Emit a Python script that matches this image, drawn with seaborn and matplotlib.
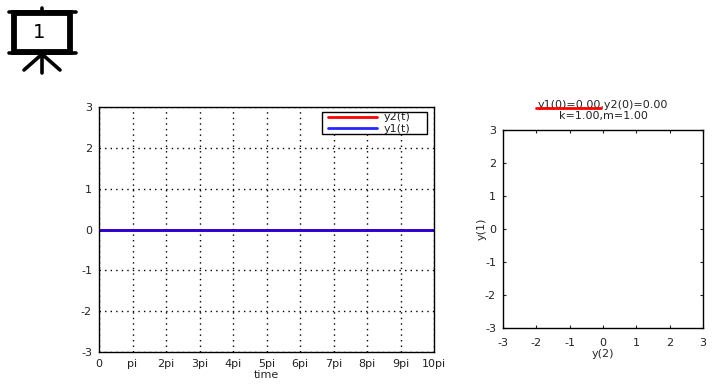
#!/usr/bin/env python
# -*- coding: utf-8 -*-
"""
Coupled oscillator frame: time series on the left, phase plane on the right.
"""

import matplotlib
matplotlib.use('Agg')
import pandas as pd
import matplotlib.pyplot as plt
import seaborn as sns
from matplotlib.lines import Line2D
from matplotlib.patches import Rectangle

time_pi = [0, 1, 2, 3, 4, 5, 6, 7, 8, 9, 10]
y1_vals = [0, 0, 0, 0, 0, 0, 0, 0, 0, 0, 0]
y2_vals = [0, 0, 0, 0, 0, 0, 0, 0, 0, 0, 0]
time_labels = ['0', 'pi', '2pi', '3pi', '4pi', '5pi', '6pi', '7pi', '8pi', '9pi', '10pi']
y_ticks = [-3, -2, -1, 0, 1, 2, 3]
title_text = 'y1(0)=0.00,y2(0)=0.00\nk=1.00,m=1.00'
frame_label = '1'

W, H = 718, 387
FS = 8

sns.set_style('white')
plt.rcParams.update({
    'font.family': 'DejaVu Sans',
    'font.size': FS,
    'text.color': '#222222',
    'axes.edgecolor': 'black',
    'axes.linewidth': 1.0,
    'axes.unicode_minus': False,
    'xtick.color': '#222222',
    'ytick.color': '#222222',
})


def px_axes(fig, left, top, right, bottom):
    return fig.add_axes([left / W, 1 - bottom / H, (right - left) / W, (bottom - top) / H])


def fig_line(fig, xs, ys, **kw):
    fig.add_artist(Line2D([x / W for x in xs], [1 - y / H for y in ys],
                          transform=fig.transFigure, **kw))


fig = plt.figure(figsize=(W / 100, H / 100), dpi=100)

# ---------- time series ----------
ax = px_axes(fig, 99, 107, 434, 352)
df = pd.DataFrame({'t': time_pi, 'y1': y1_vals, 'y2': y2_vals})
sns.lineplot(data=df, x='t', y='y2', color='#ff0000', linewidth=2, label='y2(t)', ax=ax)
sns.lineplot(data=df, x='t', y='y1', color='#0000ff', linewidth=2, alpha=0.85, label='y1(t)', ax=ax)
ax.set_xlim(0, 10)
ax.set_ylim(-3, 3)
ax.set_xticks(time_pi)
ax.set_xticklabels(time_labels)
ax.set_yticks(y_ticks)
ax.set_xlabel('time', labelpad=1)
ax.set_ylabel('')
ax.grid(True, color='black', linestyle=(0, (1, 3)), linewidth=1)
ax.set_axisbelow(True)
ax.tick_params(length=0, pad=5)

# legend box sits at px 322-427 / 110-134
leg = ax.legend(loc='lower left',
                bbox_to_anchor=((322 - 99) / 335, 1 - (134 - 107) / 245, 105 / 335, 24 / 245),
                mode='expand', borderaxespad=0, borderpad=0.02, labelspacing=0.12,
                handlelength=4.9, handletextpad=0.6, fancybox=False, framealpha=1,
                edgecolor='black', fontsize=FS)
leg.get_frame().set_linewidth(1.0)
for h in leg.get_lines():
    h.set_data([4.3, 39.2], list(h.get_ydata())[:2])

# ---------- phase plane ----------
ax2 = px_axes(fig, 503, 130, 703, 328)
sns.lineplot(data=df, x='y2', y='y1', color='#ff0000', linewidth=1, ax=ax2)
ax2.set_xlim(-3, 3)
ax2.set_ylim(-3, 3)
ax2.set_xticks(y_ticks)
ax2.set_yticks(y_ticks)
ax2.set_xlabel('y(2)', labelpad=1)
ax2.set_ylabel('y(1)', labelpad=-1)
ax2.tick_params(direction='in', length=2, width=0.8, pad=7, top=True, right=True, bottom=True, left=True)
ax2.tick_params(axis='y', pad=5)
ax2.set_title(title_text, fontsize=FS, linespacing=1.15, pad=8)

# red marker under the title
fig_line(fig, [536, 601], [107.5, 107.5], color='#ff0000', linewidth=2)

# ---------- screen icon ----------
fig.add_artist(Rectangle((14 / W, 1 - 51.5 / H), 56 / W, 38.5 / H, transform=fig.transFigure,
                         facecolor='white', edgecolor='black', linewidth=4.2))
fig_line(fig, [9, 76], [12, 12], color='black', linewidth=2.6, solid_capstyle='round')
fig_line(fig, [9, 76], [53, 53], color='black', linewidth=2.6, solid_capstyle='round')
fig_line(fig, [42, 42], [8, 12], color='black', linewidth=2.6, solid_capstyle='round')
fig_line(fig, [42, 42], [53, 73], color='black', linewidth=2.6, solid_capstyle='round')
fig_line(fig, [41, 24], [55, 70], color='black', linewidth=2.6, solid_capstyle='round')
fig_line(fig, [43, 60], [55, 70], color='black', linewidth=2.6, solid_capstyle='round')
fig.text(39.5 / W, 1 - 33 / H, frame_label, fontsize=14, ha='center', va='center', color='black')

fig.savefig('out.png', dpi=100)
